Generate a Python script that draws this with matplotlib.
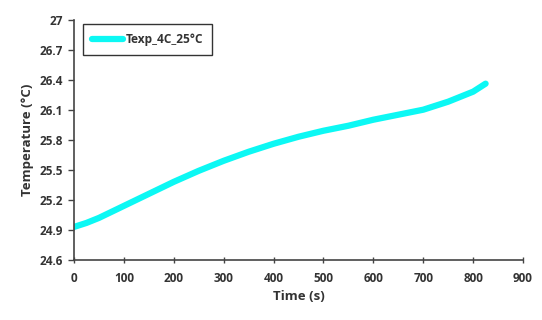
import matplotlib.pyplot as plt
import numpy as np

# Temperatura medida en el tiempo
tiempo = [0, 25, 50, 75, 100, 125, 150, 175, 200, 250, 300, 350, 400,
          450, 500, 550, 600, 650, 700, 750, 800, 825]
temperatura = [24.93, 24.97, 25.02, 25.08, 25.14, 25.20, 25.26, 25.32, 25.38,
               25.49, 25.59, 25.68, 25.76, 25.83, 25.89, 25.94, 26.00, 26.05,
               26.10, 26.18, 26.28, 26.36]
etiqueta = "Texp_4C_25°C"

plt.rcParams['font.family'] = ['Open Sans', 'DejaVu Sans']

fig = plt.figure(figsize=(5.42, 3.2), dpi=100)
ax = fig.add_axes([0.1365, 0.1875, 0.8285, 0.7515])

ax.plot(tiempo, temperatura, color='#0cf8f4', lw=4.5, solid_capstyle='round',
        label=etiqueta)

ax.set_xlim(0, 900)
ax.set_ylim(24.6, 27)
ax.set_xticks(np.arange(0, 901, 100))
ax.set_yticks([24.6, 24.9, 25.2, 25.5, 25.8, 26.1, 26.4, 26.7, 27])
ax.set_yticklabels(['24.6', '24.9', '25.2', '25.5', '25.8', '26.1', '26.4', '26.7', '27'])

for s in ['top', 'right']:
    ax.spines[s].set_visible(False)
for s in ['left', 'bottom']:
    ax.spines[s].set_color('#444444')
    ax.spines[s].set_linewidth(1.2)

ax.tick_params(axis='x', direction='inout', length=5, width=1, colors='#444444',
               labelcolor='#333333', labelsize=8.5, pad=6)
ax.tick_params(axis='y', direction='out', length=4, width=1, colors='#444444',
               labelcolor='#333333', labelsize=8.5, pad=4)
for lab in ax.get_xticklabels() + ax.get_yticklabels():
    lab.set_fontweight('bold')

ax.set_xlabel('Time (s)', fontsize=9.5, fontweight='bold', color='#333333', labelpad=4)
ax.set_ylabel('Temperature (°C)', fontsize=9.5, fontweight='bold', color='#333333', labelpad=4)

# Leyenda con marco, arriba a la izquierda
leg = ax.legend(loc='upper left', bbox_to_anchor=(0.02, 0.981), borderaxespad=0,
                fancybox=False, edgecolor='#333333', framealpha=1,
                handlelength=2.6, handletextpad=0.2,
                borderpad=0.75, prop={'size': 8.6, 'weight': 'bold'})
leg.get_frame().set_linewidth(1.0)
for t in leg.get_texts():
    t.set_color('#333333')

fig.savefig('out.png', dpi=100)
